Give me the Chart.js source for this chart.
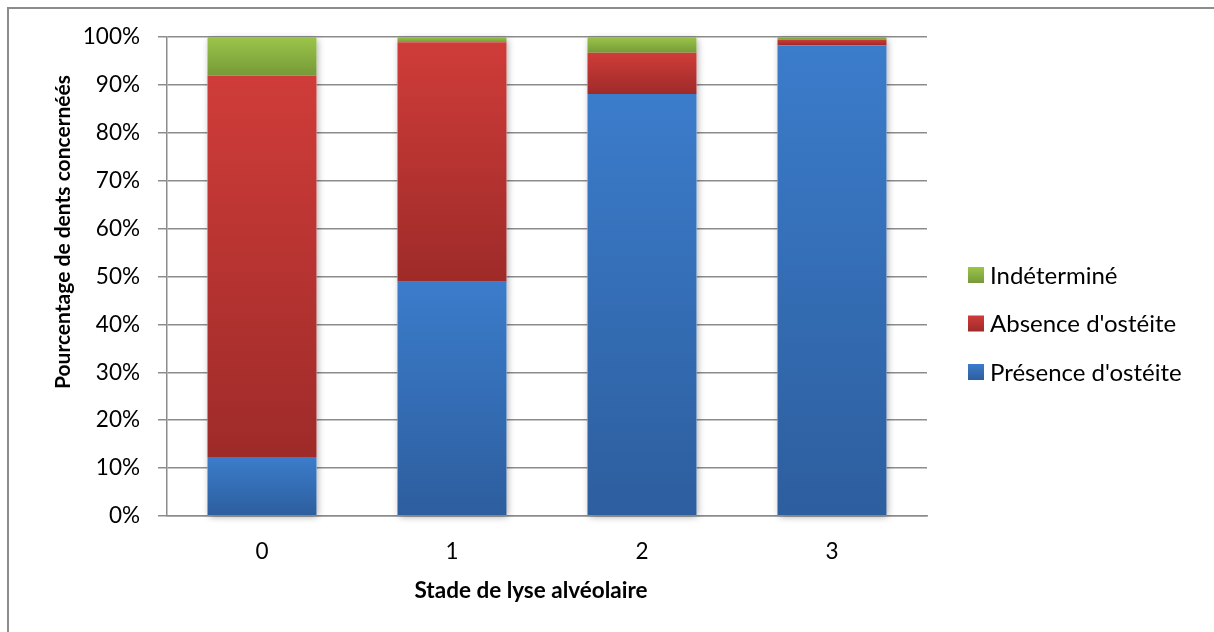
<!DOCTYPE html>
<html>
<head>
<meta charset="utf-8">
<script src="https://cdn.jsdelivr.net/npm/chart.js@4.4.0/dist/chart.umd.min.js"></script>
<style>
  html, body { margin: 0; padding: 0; background: #fff; overflow: hidden; }
  #frame { position: absolute; left: 7px; top: 7px; width: 1300px; height: 700px;
           border-left: 2px solid #8c8c8c; border-top: 2px solid #8c8c8c; }
  #wrap { position: absolute; left: 0; top: 0; width: 1214px; height: 632px; }
</style>
</head>
<body>
<div id="frame"></div>
<div id="wrap"><canvas id="chart"></canvas></div>
<script>
const stades = ['0', '1', '2', '3'];
const presence = [12.3, 48.9, 88.1, 98.3];
const absence = [79.6, 50.0, 8.6, 1.2];
const indetermine = [8.1, 1.1, 3.3, 0.5];
const yTicks = [0, 10, 20, 30, 40, 50, 60, 70, 80, 90, 100];

const xTitle = 'Stade de lyse alvéolaire';
const yTitle = 'Pourcentage de dents concernéés';

const colours = {
    blue: ['#3b7ccb', '#2d5e9e'],
    red: ['#cf3c39', '#9e2b29'],
    green: ['#9cc54a', '#759a38']
};

const font = 'Lato';

// gradient per segment, light at top, dark at bottom (like Excel)
function segmentFill(pair) {
    return (context) => {
        const chart = context.chart;
        const y = chart.scales.y;
        if (!chart.chartArea || !y || context.dataIndex === undefined) return pair[0];
        const i = context.dataIndex;
        let base = 0;
        for (let k = 0; k < context.datasetIndex; k++) base += chart.data.datasets[k].data[i];
        const top = base + chart.data.datasets[context.datasetIndex].data[i];
        const g = chart.ctx.createLinearGradient(0, y.getPixelForValue(top), 0, y.getPixelForValue(base));
        g.addColorStop(0, pair[0]);
        g.addColorStop(1, pair[1]);
        return g;
    };
}

// soft shadow behind each whole stacked bar
const barShadow = {
    id: 'barShadow',
    beforeDatasetsDraw(chart) {
        const ctx = chart.ctx;
        const first = chart.getDatasetMeta(0).data;
        const last = chart.getDatasetMeta(chart.data.datasets.length - 1).data;
        ctx.save();
        ctx.shadowColor = 'rgba(0,0,0,0.35)';
        ctx.shadowBlur = 7;
        ctx.shadowOffsetX = 1.5;
        ctx.shadowOffsetY = 2;
        ctx.fillStyle = '#fff';
        first.forEach((bar, i) => {
            const topBar = last[i];
            ctx.fillRect(bar.x - bar.width / 2, topBar.y, bar.width, bar.base - topBar.y);
        });
        ctx.restore();
    }
};

// legend on the right (reversed order) and the two axis titles, placed like Excel does
const sideLegend = {
    id: 'sideLegend',
    afterDraw(chart) {
        const ctx = chart.ctx;
        const area = chart.chartArea;
        const items = chart.data.datasets.slice().reverse();
        ctx.save();
        ctx.font = '24px ' + font;
        ctx.textBaseline = 'middle';
        items.forEach((ds, k) => {
            const cy = area.top + 238 + k * 48.5;
            const bx = area.right + 41;
            const g = ctx.createLinearGradient(0, cy - 8, 0, cy + 8);
            g.addColorStop(0, ds.pair[0]);
            g.addColorStop(1, ds.pair[1]);
            ctx.fillStyle = g;
            ctx.fillRect(bx, cy - 8, 16, 16);
            ctx.fillStyle = '#000';
            ctx.fillText(ds.label, bx + 22, cy + 1);
        });

        ctx.textAlign = 'center';
        ctx.font = 'bold 22.5px ' + font;
        ctx.fillText(xTitle, area.left + 364, area.bottom + 75);

        ctx.font = 'bold 21px ' + font;
        ctx.translate(area.left - 104, area.top + 195);
        ctx.rotate(-Math.PI / 2);
        ctx.fillText(yTitle, 0, 0);
        ctx.restore();
    }
};

const chartEl = document.querySelector('#chart').getContext('2d');

let stackChart = new Chart(chartEl, {
    type: 'bar',
    data: {
        labels: stades,
        datasets: [
            { label: "Présence d'ostéite", data: presence, pair: colours.blue, backgroundColor: segmentFill(colours.blue) },
            { label: "Absence d'ostéite", data: absence, pair: colours.red, backgroundColor: segmentFill(colours.red) },
            { label: 'Indéterminé', data: indetermine, pair: colours.green, backgroundColor: segmentFill(colours.green) }
        ]
    },
    options: {
        responsive: true,
        maintainAspectRatio: false,
        animation: false,
        datasets: {
            bar: { categoryPercentage: 1, barPercentage: 0.574, borderWidth: 0 }
        },
        layout: {
            padding: { left: 40, top: 37, right: 287, bottom: 30 }
        },
        plugins: {
            legend: { display: false },
            tooltip: { enabled: false }
        },
        scales: {
            x: {
                stacked: true,
                grid: { display: false, drawTicks: false },
                border: { display: true, color: '#8c8c8c', width: 1.5 },
                ticks: { color: '#000', padding: 22, font: { family: font, size: 22.5 } },
                afterFit: (s) => { s.height = 86; }
            },
            y: {
                stacked: true,
                min: 0,
                max: 100,
                afterBuildTicks: (s) => { s.ticks = yTicks.map(v => ({ value: v })); },
                grid: { color: '#8c8c8c', lineWidth: 1.5, tickLength: 9 },
                border: { display: true, color: '#8c8c8c', width: 1.5 },
                ticks: {
                    color: '#000',
                    padding: 18,
                    font: { family: font, size: 22.5 },
                    callback: (v) => v + '%'
                },
                afterFit: (s) => { s.width = 127; }
            }
        }
    },
    plugins: [barShadow, sideLegend]
});
</script>
</body>
</html>
